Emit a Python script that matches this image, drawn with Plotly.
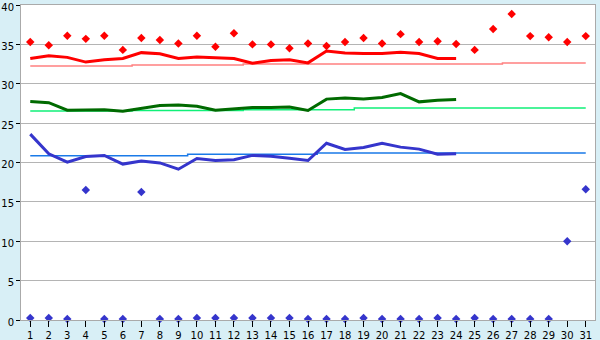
import plotly.graph_objects as go

days = list(range(1, 32))
line_days = list(range(1, 25))

red_points = [35.3, 34.9, 36.1, 35.7, 36.1, 34.3, 35.8, 35.55, 35.1, 36.1,
              34.7, 36.4, 35.0, 35.0, 34.5, 35.1, 34.8, 35.3, 35.8, 35.1,
              36.3, 35.3, 35.4, 35.05, 34.3, 36.95, 38.85, 36.05, 35.9, 35.3, 36.05]
red_line = [33.2, 33.55, 33.35, 32.75, 33.05, 33.2, 33.95, 33.8, 33.2, 33.4,
            33.3, 33.2, 32.6, 32.95, 33.05, 32.65, 34.15, 33.9, 33.85, 33.85,
            34.0, 33.85, 33.2, 33.2]
red_ref = [32.25, 32.25, 32.25, 32.25, 32.25, 32.25, 32.38, 32.38, 32.38, 32.38,
           32.38, 32.38, 32.5, 32.5, 32.5, 32.5, 32.5, 32.5, 32.5, 32.5,
           32.5, 32.5, 32.5, 32.5, 32.5, 32.5, 32.63, 32.63, 32.63, 32.63, 32.63]

green_line = [27.75, 27.6, 26.65, 26.7, 26.7, 26.5, 26.9, 27.25, 27.3, 27.15,
              26.65, 26.85, 27.0, 27.0, 27.05, 26.6, 28.05, 28.2, 28.05, 28.25,
              28.75, 27.7, 27.9, 28.0]
green_ref = [26.54, 26.54, 26.54, 26.54, 26.54, 26.54, 26.6, 26.6, 26.6, 26.6,
             26.6, 26.6, 26.7, 26.7, 26.7, 26.7, 26.7, 26.7, 26.92, 26.92,
             26.92, 26.92, 26.92, 26.92, 26.92, 26.92, 26.92, 26.92, 26.92, 26.92, 26.92]

blue_line = [23.6, 21.1, 20.05, 20.75, 20.9, 19.8, 20.2, 19.95, 19.15, 20.5,
             20.25, 20.35, 20.9, 20.8, 20.55, 20.25, 22.45, 21.65, 21.9, 22.45,
             21.95, 21.7, 21.05, 21.1]
blue_ref = [20.86, 20.86, 20.86, 20.86, 20.86, 20.86, 20.86, 20.86, 20.86, 21.05,
            21.05, 21.05, 21.05, 21.05, 21.05, 21.05, 21.2, 21.2, 21.2, 21.2,
            21.2, 21.2, 21.2, 21.2, 21.2, 21.2, 21.2, 21.2, 21.2, 21.2, 21.2]
blue_points = [0.25, 0.25, 0.13, 16.5, 0.13, 0.13, 16.25, 0.13, 0.13, 0.25,
               0.25, 0.25, 0.25, 0.25, 0.25, 0.13, 0.13, 0.13, 0.25, 0.13,
               0.13, 0.13, 0.25, 0.13, 0.25, 0.13, 0.13, 0.13, 0.13, 10.0, 16.6]

y_ticks = [0, 5, 10, 15, 20, 25, 30, 35, 40]
x_labels = [str(d) for d in days]

fig = go.Figure()

def ref_line(y, color):
    fig.add_trace(go.Scatter(x=days, y=y, mode="lines", line=dict(color=color, width=1.5, shape="hvh"),
                             hoverinfo="skip"))

def main_line(y, color):
    fig.add_trace(go.Scatter(x=line_days, y=y, mode="lines", line=dict(color=color, width=3),
                             hoverinfo="skip"))

ref_line(red_ref, "#ff8080")
ref_line(green_ref, "#10f078")
ref_line(blue_ref, "#1a7ae8")
main_line(red_line, "#ff0000")
main_line(green_line, "#006a00")
main_line(blue_line, "#3535cc")

fig.add_trace(go.Scatter(x=days, y=red_points, mode="markers",
                         marker=dict(symbol="diamond", size=6.5, color="#ff0000"), cliponaxis=False))
fig.add_trace(go.Scatter(x=days, y=blue_points, mode="markers",
                         marker=dict(symbol="diamond", size=6.5, color="#3535cc"), cliponaxis=False))

fig.update_layout(
    width=600, height=340,
    margin=dict(l=21, r=5, t=5, b=20),
    paper_bgcolor="#d8eff6",
    plot_bgcolor="#ffffff",
    showlegend=False,
    font=dict(family="DejaVu Sans", size=10, color="#000000"),
)
fig.update_xaxes(
    range=[0.5, 31.5], tickvals=days, ticktext=x_labels, automargin=False,
    ticklabeloverflow="allow",
    showgrid=False, zeroline=False,
    showline=True, linecolor="#aaaaaa", linewidth=1, mirror=True,
    ticks="outside", ticklen=6, tickcolor="#000000", tickwidth=1,
)
fig.update_yaxes(
    range=[0, 40], tickvals=y_ticks, automargin=False,
    ticklabeloverflow="allow", ticklabelshift=2,
    showgrid=True, gridcolor="#b4b4b4", gridwidth=1, zeroline=False,
    showline=True, linecolor="#aaaaaa", linewidth=1, mirror=True,
    ticks="outside", ticklen=4, tickcolor="#000000", tickwidth=1,
)

fig.write_html("out.html")
